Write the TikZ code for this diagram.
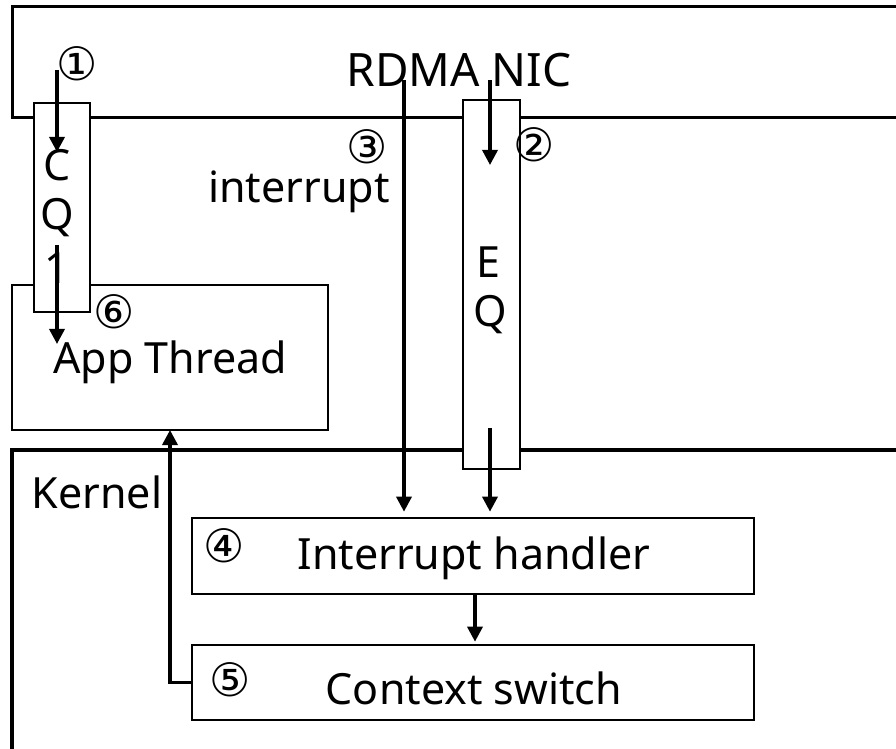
\documentclass[tikz,border=0pt]{standalone}
\usepackage{fontspec}
\setmainfont{Noto Sans}
\newfontfamily\circfont{DejaVu Sans}
\usetikzlibrary{positioning, arrows.meta, fit, calc}

\begin{document}
\begin{tikzpicture}[
    x=0.5pt, y=-0.5pt,
    box/.style={rectangle, draw=black, line width=1.3pt, inner sep=0pt},
    queue/.style={box, fill=white},
    arrow/.style={-{Triangle[length=7.5pt, width=7.5pt]}, line width=1.7pt},
    txt/.style={font=\fontsize{21.5}{26}\selectfont, inner sep=0pt},
    num/.style={font=\circfont\fontsize{23}{27}\selectfont, inner sep=0pt},
]
\useasboundingbox (0,0) rectangle (896,749);
\clip (0,0) rectangle (896,749);

% NIC, app and kernel regions
\node[box, line width=1.5pt, fit={(12,7) (920,118)}] (nic) {};
\node[box, fit={(12,285) (328,430)}] (app) {};
\node[box, line width=2pt, fit={(12,450) (920,770)}] (kernel) {};

% Queues
\node[queue, fit={(34,103) (90,312)}] (cq) {};
\node[queue, fit={(463,100) (520,469)}] (eq) {};

% Kernel blocks
\node[box, fit={(192,518) (754,594)}] (handler) {};
\node[box, fit={(192,645) (754,720)}] (ctx) {};

% Texts
\node[txt, font=\fontsize{23}{27}\selectfont] (niclabel) at (459,70) {RDMA NIC};
\node[txt] (applabel) at (170,362) {App Thread};
\node[txt] (kernlabel) at (97,492) {Kernel};
\node[txt] at (474,558) {Interrupt handler};
\node[txt] at (474,688) {Context switch};
\node[txt, anchor=east] (intlabel) at (390,192) {interrupt};
\node[txt] at (57,165) {C};
\node[txt] at (57,218) {Q};
\node[txt] at (57,268) {1};
\node[txt] at (488,262) {E};
\node[txt] at (490,315) {Q};

% Step numbers
\node[num] (n1) at (77,64) {①};
\node[num] (n2) at (534,145) {②};
\node[num] (n3) at (367,147) {③};
\node[num] (n4) at (224,546) {④};
\node[num] (n5) at (230,680) {⑤};
\node[num] (n6) at (114,312) {⑥};

% Arrow end points
\coordinate (s1) at (57,70);
\coordinate (e1) at (57,152);
\coordinate (s6) at (57,245);
\coordinate (e6) at (57,344);
\coordinate (s3) at (404,80);
\coordinate (s2) at (490,80);
\coordinate (e2) at (490,165);
\coordinate (s2b) at (490,428);
\coordinate (back) at (170,430);

% Arrows
\draw[arrow] (s1) -- (e1);
\draw[arrow] (s6) -- (e6);
\draw[arrow] (s2) -- (e2);
\draw[arrow, shorten >=2.5pt] (s3) -- (s3 |- handler.north);
\draw[arrow, shorten >=2.5pt] (s2b) -- (s2b |- handler.north);
\draw[arrow, shorten >=1pt] ($(handler.south)+(2,0)$) -- ($(ctx.north)+(2,0)$);
\draw[arrow] (ctx.west) -| (back);
\end{tikzpicture}
\end{document}
